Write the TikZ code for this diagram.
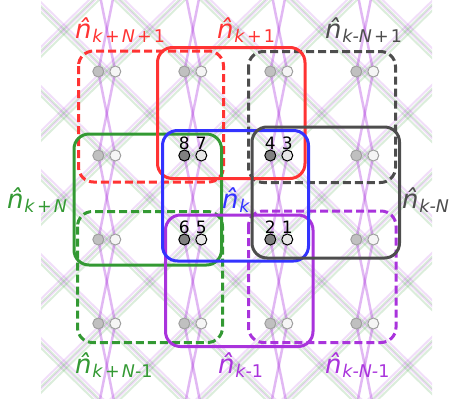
\documentclass[tikz,border=0pt]{standalone}
\usepackage{fontspec}
\setmainfont{DejaVu Sans}
\definecolor{cred}{RGB}{255,51,51}
\definecolor{cblue}{RGB}{51,51,255}
\definecolor{cgreen}{RGB}{51,153,51}
\definecolor{cgrey}{RGB}{77,77,77}
\definecolor{cpurple}{RGB}{169,51,220}
\definecolor{bgviolet}{RGB}{148,0,211}
\definecolor{bggreen}{RGB}{0,128,0}
\definecolor{dotl}{RGB}{192,192,192}
\definecolor{dotr}{RGB}{245,245,245}
\definecolor{dotedge}{RGB}{160,160,160}
\definecolor{dotk}{RGB}{128,128,128}
\definecolor{dotkr}{RGB}{230,230,230}
\newcommand\nhat[1]{\textit{\^{n}}\raisebox{-4pt}{\fontsize{17.5}{18}\selectfont #1}}
\newcommand\bsp{\hspace{0.12em}}
\begin{document}
\begin{tikzpicture}[x=1pt,y=-1pt,
  sbox/.style={line width=3pt, rounded corners=15pt},
  dbox/.style={line width=3pt, rounded corners=15pt, dash pattern=on 8pt off 4pt},
  zig/.style={draw=bgviolet, draw opacity=0.28, line width=2.5pt},
  diagv/.style={draw=bgviolet, draw opacity=0.13, line width=2pt},
  diagg/.style={draw=bggreen, draw opacity=0.14, line width=2pt},
  ldot/.style={circle, draw=dotedge, fill=dotl, line width=1pt, minimum size=11pt, inner sep=0pt},
  rdot/.style={circle, draw=dotedge, fill=dotr, line width=1pt, minimum size=11pt, inner sep=0pt},
  ldotk/.style={circle, draw=black, fill=dotk, line width=1pt, minimum size=11pt, inner sep=0pt},
  rdotk/.style={circle, draw=black, fill=dotkr, line width=1pt, minimum size=11pt, inner sep=0pt},
  lab/.style={anchor=base west, inner sep=0pt, font=\fontsize{26}{30}\selectfont},
  num/.style={anchor=base, inner sep=0pt, font=\fontsize{17}{20}\selectfont}
]
\useasboundingbox (0,0) rectangle (452,405);
% background lattice
\begin{scope}
\clip (41,0) rectangle (432,398);
\foreach \m in {-6,...,9} {
  \foreach \o in {5,-1} {
    \draw[diagv] ({106.8+43*(2*\m-4)+\o},-96.5) -- ({106.8+43*(2*\m+12)+\o},575.5);
    \draw[diagv] ({106.8+43*(2*\m+4)-\o},-96.5) -- ({106.8+43*(2*\m-12)-\o},575.5);
  }
  \foreach \o in {1,-5} {
    \draw[diagg] ({106.8+43*(2*\m-4)+\o},-96.5) -- ({106.8+43*(2*\m+12)+\o},575.5);
    \draw[diagg] ({106.8+43*(2*\m+4)-\o},-96.5) -- ({106.8+43*(2*\m-12)-\o},575.5);
  }
}
\foreach \i in {0,...,3} {
  \pgfmathsetmacro\cx{106.8+86*\i}
  \draw[zig] ({\cx-8.5},-12.5) -- ({\cx+8.5},71.5) -- ({\cx-8.5},155.5) -- ({\cx+8.5},239.5) -- ({\cx-8.5},323.5) -- ({\cx+8.5},407.5);
  \draw[zig] ({\cx+8.5},-12.5) -- ({\cx-8.5},71.5) -- ({\cx+8.5},155.5) -- ({\cx-8.5},239.5) -- ({\cx+8.5},323.5) -- ({\cx-8.5},407.5);
}
\end{scope}
% dashed boxes
\draw[dbox, draw=cred] (78.5,51) rectangle (223.5,182);
\draw[dbox, draw=cgrey] (248.5,51.5) rectangle (395.5,182.5);
\draw[dbox, draw=cgreen] (77.5,211.5) rectangle (222.5,342.5);
\draw[dbox, draw=cpurple] (248.5,211) rectangle (396,342.5);
% solid boxes
\draw[sbox, draw=cgreen] (74,134) rectangle (221.5,265);
\draw[sbox, draw=cred] (157.5,47.5) rectangle (305,178.5);
\draw[sbox, draw=cpurple] (165.5,215) rectangle (313,346.5);
\draw[sbox, draw=cblue] (162.5,130.5) rectangle (308.5,261);
\draw[sbox, draw=cgrey] (252,127) rectangle (399.5,258);
% dots
\foreach \i/\j in {0/0,1/0,2/0,3/0,0/1,3/1,0/2,3/2,0/3,1/3,2/3,3/3} {
  \node[ldot] (a\i\j) at ({98.3+86*\i},{71.5+84*\j}) {};
  \node[rdot] (b\i\j) at ({115.3+86*\i},{71.5+84*\j}) {};
}
\foreach \i/\j in {1/1,2/1,1/2,2/2} {
  \node[ldotk] (a\i\j) at ({98.3+86*\i},{71.5+84*\j}) {};
  \node[rdotk] (b\i\j) at ({115.3+86*\i},{71.5+84*\j}) {};
}
% numbers
\node[num] (n8) at (184.3,149) {8};
\node[num] (n7) at (201.3,149) {7};
\node[num] (n4) at (270.3,149) {4};
\node[num] (n3) at (287.3,149) {3};
\node[num] (n6) at (184.3,233) {6};
\node[num] (n5) at (201.3,233) {5};
\node[num] (n2) at (270.3,233) {2};
\node[num] (n1) at (287.3,233) {1};
% labels
\node[lab, text=cred] (lkN1) at (75,38) {\nhat{\textit{k}\bsp+\bsp\textit{N}\bsp+\bsp1}};
\node[lab, text=cred] (lk1) at (217,38) {\nhat{\textit{k}\bsp+\bsp1}};
\node[lab, text=cgrey] (lkmN1) at (325,38) {\nhat{\textit{k-N}\bsp+\bsp1}};
\node[lab, text=cgreen] (lkN) at (7,208) {\nhat{\textit{k}\bsp+\bsp\textit{N}}};
\node[lab, text=cblue] (lk) at (222,208) {\nhat{\textit{k}}};
\node[lab, text=cgrey] (lkmN) at (402,208) {\nhat{\textit{k-N}}};
\node[lab, text=cgreen] (lkNm1) at (75,373) {\nhat{\textit{k}\bsp+\bsp\textit{N-}1}};
\node[lab, text=cpurple] (lkm1) at (218,373) {\nhat{\textit{k-}1}};
\node[lab, text=cpurple] (lkmNm1) at (325,373) {\nhat{\textit{k-N-}1}};
\end{tikzpicture}
\end{document}
